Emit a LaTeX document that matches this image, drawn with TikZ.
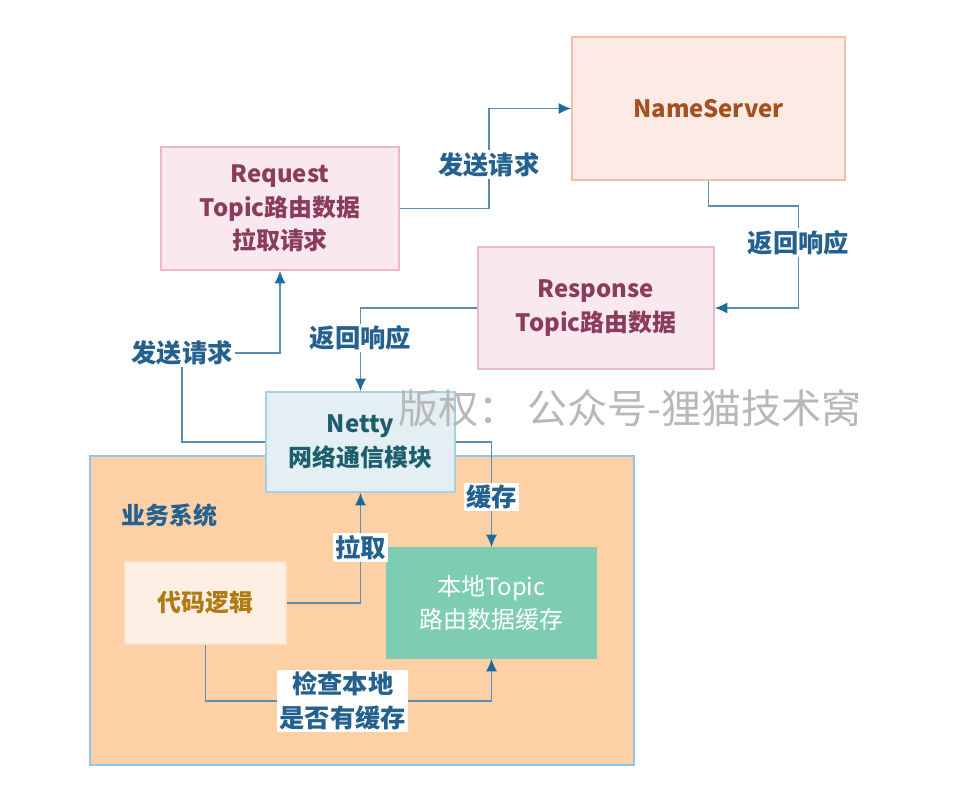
\documentclass[tikz,border=0pt]{standalone}
\usepackage{fontspec}
\setmainfont{Noto Sans CJK SC}
\usepackage{tikz}
\usetikzlibrary{arrows.meta,positioning,calc}
\usepackage{xcolor}
\definecolor{nsfill}{HTML}{FCEAE4}
\definecolor{nsdraw}{HTML}{F4BFA8}
\definecolor{nsink}{HTML}{A4501F}
\definecolor{msgfill}{HTML}{F9E9EF}
\definecolor{msgdraw}{HTML}{EDB9C9}
\definecolor{msgink}{HTML}{8B3C5C}
\definecolor{netfill}{HTML}{E4EFF3}
\definecolor{netdraw}{HTML}{A8CFE2}
\definecolor{netink}{HTML}{1D5E6E}
\definecolor{sysfill}{HTML}{FDD1A5}
\definecolor{sysdraw}{HTML}{8EC5E8}
\definecolor{codefill}{HTML}{FDEFE3}
\definecolor{codedraw}{HTML}{FDE3CC}
\definecolor{codeink}{HTML}{B07A12}
\definecolor{cache}{HTML}{7FCCB4}
\definecolor{wire}{HTML}{5A8DB6}
\definecolor{tip}{HTML}{1F6A9C}
\definecolor{ink}{HTML}{24618F}
\definecolor{mark}{HTML}{B8B8B8}
\tikzset{
  every node/.style={font=\fontsize{17}{24}\selectfont\bfseries},
  box/.style={draw,line width=1pt,align=center,inner sep=3pt},
  nsbox/.style={box,fill=nsfill,draw=nsdraw,text=nsink},
  msgbox/.style={box,fill=msgfill,draw=msgdraw,text=msgink},
  netbox/.style={box,fill=netfill,draw=netdraw,text=netink},
  sysbox/.style={box,fill=sysfill,draw=sysdraw,line width=1.5pt},
  codebox/.style={box,fill=codefill,draw=codedraw,text=codeink},
  cachebox/.style={box,fill=cache,draw=cache,text=white,font=\fontsize{17}{24}\selectfont},
  arrow/.style={-{Latex[length=9pt,width=8pt,color=tip]},line width=1.4pt,draw=wire},
  label/.style={fill=white,text=ink,align=center,inner sep=1.5pt,font=\fontsize{18}{24}\selectfont\bfseries},
}

\begin{document}
\begin{tikzpicture}[x=0.25mm,y=-0.25mm]
\useasboundingbox[fill=white] (0,0) rectangle (969,804);

% servers and messages
\node[nsbox,minimum width=68.25mm,minimum height=35.75mm] (ns) at (708.5,108.5) {NameServer};
\node[msgbox,minimum width=59.5mm,minimum height=30.75mm] (req) at (280,208.5) {Request\\Topic路由数据\\拉取请求};
\node[msgbox,minimum width=59mm,minimum height=30.5mm] (resp) at (596,308) {Response\\Topic路由数据};

% business system
\node[sysbox,minimum width=136mm,minimum height=77.25mm] (sys) at (362,610.5) {};
\node[text=ink,anchor=west] (systitle) at (117,515) {业务系统};
\node[netbox,minimum width=47.25mm,minimum height=25mm] (netty) at (360.5,442) {Netty\\网络通信模块};
\node[codebox,minimum width=40.25mm,minimum height=20.5mm] (code) at (205.5,603) {代码逻辑};
\node[cachebox,minimum width=52.25mm,minimum height=27.5mm] (cachebox) at (491.5,603) {本地Topic\\路由数据缓存};

% request / response
\draw[arrow] (req.east) -- ++(89,0) |- (ns.west) node[label,pos=0.22]{发送请求};
\draw[arrow] (ns.south) |- ++(90,25) |- (resp.east) node[label,pos=0.18]{返回响应};
\draw[arrow] (resp.west) -| (netty.north) node[label,pos=0.68]{返回响应};
\draw[arrow] (netty.west) -| ++(-83,-89) node[label]{发送请求} -| (req.south);

% local cache
\draw[arrow] (netty.east) -| (cachebox.north) node[label,pos=0.76]{缓存};
\draw[arrow] (code.east) -| (netty.south) node[label,pos=0.75]{拉取};
\draw[arrow] (code.south) -- ++(0,56) -| (cachebox.south) node[label,pos=0.24]{检查本地\\是否有缓存};

% watermark
\node[text=mark,font=\fontsize{28.5}{32}\selectfont] (wm) at (630,408) {版权： 公众号-狸猫技术窝};

\end{tikzpicture}
\end{document}
